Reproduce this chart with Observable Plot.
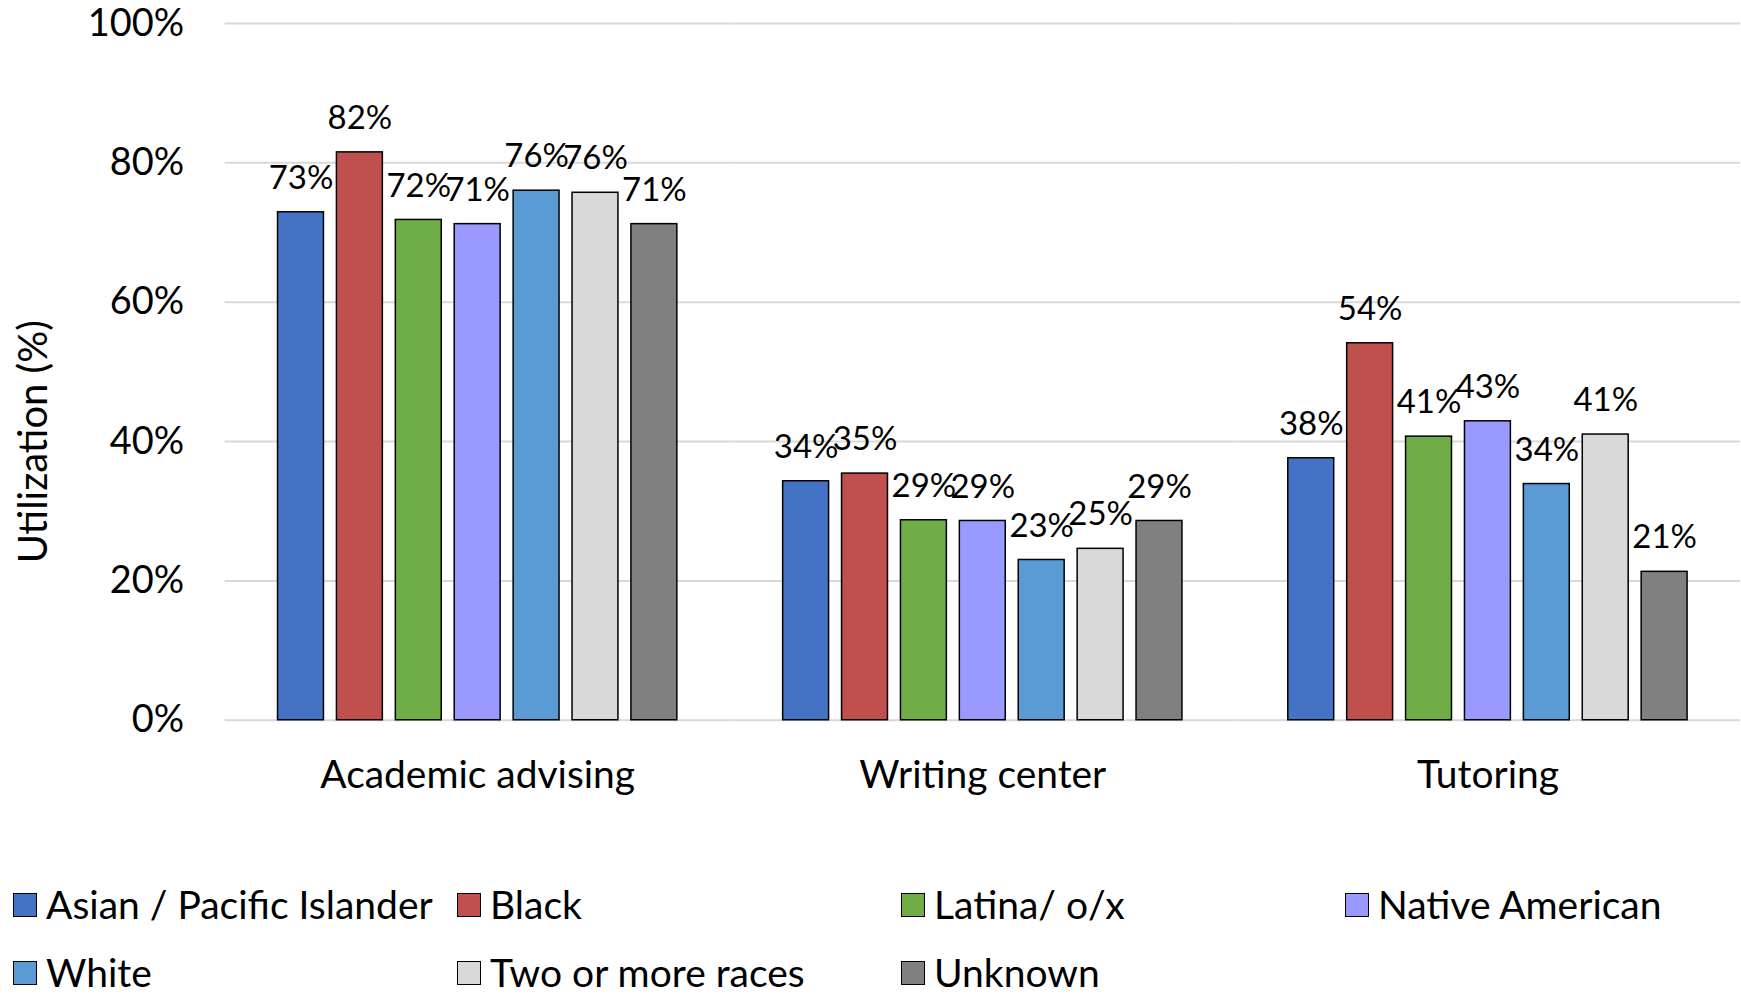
<!DOCTYPE html>
<html>
<head>
<meta charset="utf-8">
<script src="https://cdn.jsdelivr.net/npm/d3@7"></script>
<script src="https://cdn.jsdelivr.net/npm/@observablehq/plot@0.6"></script>
<style>
  html, body { margin: 0; padding: 0; background: #fff; overflow: hidden; }
  #wrap { position: relative; width: 1741px; height: 997px; overflow: hidden; font-family: Lato, "Noto Sans", sans-serif; }
  #wrap svg { display: block; }
  #legend { position: absolute; left: 13px; top: 887px; display: grid; grid-template-columns: repeat(4, 444px); grid-auto-rows: 36px; row-gap: 32px; }
  .item { display: flex; align-items: center; height: 36px; font-size: 39px; line-height: 0.9; color: #000; white-space: nowrap; }
  .sw { width: 22px; height: 22px; border: 1.5px solid #000; margin-right: 9px; flex: none; }
</style>
</head>
<body>
<div id="wrap"></div>
<script>
const categories = ["Academic advising", "Writing center", "Tutoring"];
const groups = ["Asian / Pacific Islander", "Black", "Latina/ o/x", "Native American", "White", "Two or more races", "Unknown"];
const advising = [72.9, 81.5, 71.8, 71.2, 76.0, 75.7, 71.2];
const writingCenter = [34.3, 35.4, 28.7, 28.6, 23.0, 24.6, 28.6];
const tutoring = [37.6, 54.1, 40.7, 42.9, 33.9, 41.0, 21.3];
const colors = ["#4472C4", "#C0504D", "#70AD47", "#9999FF", "#5B9BD5", "#D9D9D9", "#808080"];
const yTicks = [0, 20, 40, 60, 80, 100];
const yTitle = "Utilization (%)";

const series = [advising, writingCenter, tutoring];
const rows = [];
categories.forEach((c, i) => groups.forEach((g, j) => rows.push({cat: c, group: g, value: series[i][j]})));

const chart = Plot.plot({
  width: 1744,
  height: 810,
  marginLeft: 224,
  marginRight: 0,
  marginTop: 23,
  marginBottom: 89,
  style: {fontFamily: "Lato, 'Noto Sans', sans-serif", color: "#000", background: "#fff", overflow: "visible"},
  fx: {domain: categories, padding: 0, label: null},
  x: {domain: groups, paddingInner: 0.217, paddingOuter: 0.859, axis: null},
  y: {domain: [0, 100], label: null},
  color: {domain: groups, range: colors},
  marks: [
    Plot.gridY(yTicks, {stroke: "#D9D9D9", strokeOpacity: 1, strokeWidth: 2}),
    Plot.axisY(yTicks, {tickSize: 0, tickPadding: 41, fontSize: 38, tickFormat: d => d + "%", label: null}),
    Plot.text([yTitle], {frameAnchor: "left", facetAnchor: "left", rotate: -90, dx: -191, dy: 70, fontSize: 40, fill: "#000", textAnchor: "middle", lineAnchor: "middle"}),
    Plot.axisFx({anchor: "bottom", tickSize: 0, tickPadding: 40, fontSize: 39, label: null}),
    Plot.barY(rows, {fx: "cat", x: "group", y: "value", fill: "group", stroke: "#000", strokeWidth: 1.5}),
    Plot.text(rows, {fx: "cat", x: "group", y: "value", text: d => Math.round(d.value) + "%", dy: -34, fontSize: 33, fill: "#000"})
  ]
});

const wrap = document.getElementById("wrap");
wrap.appendChild(chart);

const legend = document.createElement("div");
legend.id = "legend";
groups.forEach((g, i) => {
  const item = document.createElement("div");
  item.className = "item";
  item.style.gridColumn = String(i < 4 ? i + 1 : i - 3);
  item.style.gridRow = String(i < 4 ? 1 : 2);
  const sw = document.createElement("span");
  sw.className = "sw";
  sw.style.background = colors[i];
  const t = document.createElement("span");
  t.textContent = g;
  item.appendChild(sw);
  item.appendChild(t);
  legend.appendChild(item);
});
wrap.appendChild(legend);
</script>
</body>
</html>
